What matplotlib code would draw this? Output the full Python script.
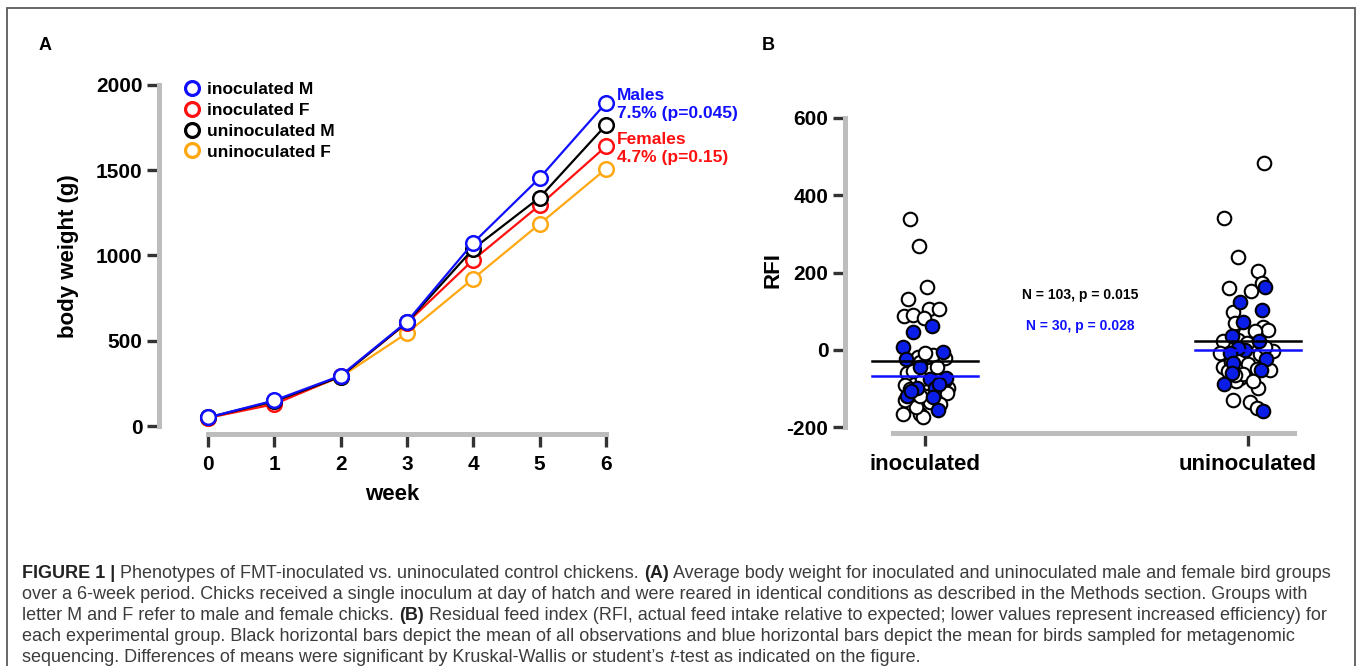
import matplotlib
matplotlib.use("Agg")
import matplotlib.pyplot as plt
from matplotlib.lines import Line2D
from matplotlib.patches import Rectangle
from matplotlib.font_manager import FontProperties

# ---------------- data ----------------
weeks = [0, 1, 2, 3, 4, 5, 6]
inoc_M = [50, 150, 295, 612, 1075, 1455, 1895]
inoc_F = [48, 128, 292, 605, 975, 1295, 1640]
uninoc_M = [50, 145, 290, 608, 1040, 1340, 1765]
uninoc_F = [48, 138, 288, 545, 865, 1185, 1508]
series_labels = ["inoculated M", "inoculated F", "uninoculated M", "uninoculated F"]

groups = ["inoculated", "uninoculated"]
# RFI values (all birds, open circles) and jitter within the group column
inoc_open_rfi = [339, 270, 164, 131, 88, 90, 105, 105, 82, -17, -13, -52, -69, -97, -100,
                 -112, -84, -78, -166, -165, -172, -147, -60, -90, -100, -130, -135, -120,
                 -20, -30, -45, -110, -85, -140, -75, -55, -8]
inoc_open_jit = [-0.046, -0.019, 0.006, -0.053, -0.065, -0.037, 0.012, 0.043, -0.003, -0.022,
                 0.025, 0.015, -0.050, 0.071, 0.056, 0.009, -0.031, 0.062, -0.068, -0.015,
                 -0.006, -0.028, -0.056, -0.062, -0.046, -0.062, 0.015, -0.015, 0.062, -0.015,
                 0.037, 0.068, 0.009, 0.046, -0.009, -0.037, 0.000]
inoc_seq_rfi = [47, 62, 7, -24, -5, -43, -76, -72, -97, -99, -119, -121, -155, -105, -88]
inoc_seq_jit = [-0.037, 0.022, -0.068, -0.059, 0.056, -0.015, 0.015, 0.065, -0.025, 0.031,
                -0.056, 0.025, 0.040, -0.043, 0.043]
uninoc_open_rfi = [483, 341, 241, 204, 160, 153, 172, 97, 70, 60, 51, 22, 25, -52, -2, -9, -43,
                   -73, -99, -129, -134, -151, -80, -17, 45, 50, -30, -35, -48, -63, -65, -10,
                   25, 8, -55, 18, -80]
uninoc_open_jit = [0.050, -0.074, -0.031, 0.031, -0.059, 0.009, 0.043, -0.046, -0.040, 0.046,
                   0.062, -0.077, 0.006, 0.068, 0.077, -0.087, -0.077, -0.025, 0.031, -0.046,
                   0.006, 0.028, -0.037, 0.015, -0.009, 0.022, -0.053, 0.000, 0.028, -0.015,
                   -0.040, 0.037, -0.031, 0.053, -0.062, -0.003, 0.015]
uninoc_seq_rfi = [164, 125, 103, 73, 36, 22, 0, 4, -9, -22, -33, -60, -52, -89, -157]
uninoc_seq_jit = [0.053, -0.025, 0.043, -0.015, -0.050, 0.034, -0.009, -0.031, -0.056, 0.056,
                  -0.046, -0.050, 0.040, -0.074, 0.046]
mean_all = [-29, 24]
mean_seq = [-67, 0]

# ---------------- layout ----------------
W, H = 1358, 666
FAM = ["Liberation Sans", "DejaVu Sans"]
plt.rcParams["font.family"] = FAM
plt.rcParams["axes.unicode_minus"] = False
fig = plt.figure(figsize=(W / 100, H / 100), dpi=100)


def fx(px):
    return px / W


def fy(py):
    return 1 - py / H


BLUE, RED, BLACK, ORANGE = "#1010ff", "#ff1010", "#000000", "#ffa812"
SPINE = "#bdbdbd"
TICK = "#333333"


def style_axes(ax):
    for s in ["top", "right"]:
        ax.spines[s].set_visible(False)
    for s in ["left", "bottom"]:
        ax.spines[s].set_color(SPINE)
        ax.spines[s].set_linewidth(3.6)
    ax.tick_params(axis="both", direction="out", length=9, width=2.4, color=TICK,
                   labelsize=15)
    ax.tick_params(axis="y", pad=3)
    ax.tick_params(axis="x", pad=6)
    for lab in ax.get_xticklabels() + ax.get_yticklabels():
        lab.set_fontweight("bold")


# ---- Panel A ----
a_left, a_right, a_top, a_bot = 159, 625, 78, 434
x0px, x6px = 208, 606
y0px, y2000px = 426, 85
axA = fig.add_axes([fx(a_left), fy(a_bot), (a_right - a_left) / W, (a_bot - a_top) / H])
sx = (x6px - x0px) / 6
sy = (y0px - y2000px) / 2000
axA.set_xlim((a_left - x0px) / sx, (a_right - x0px) / sx)
axA.set_ylim(-(a_bot - y0px) / sy, 2000 + (y2000px - a_top) / sy)

order = [(uninoc_F, ORANGE, series_labels[3]), (inoc_F, RED, series_labels[1]),
         (uninoc_M, BLACK, series_labels[2]), (inoc_M, BLUE, series_labels[0])]
for vals, col, lab in order:
    axA.plot(weeks, vals, color=col, lw=1.6, marker="o", ms=10.5, mfc="white",
             mec=col, mew=1.8, label=lab, clip_on=False)

axA.set_xticks(weeks)
axA.set_yticks([0, 500, 1000, 1500, 2000])
axA.spines["left"].set_bounds(0, 2000)
axA.spines["bottom"].set_bounds(0, 6)
style_axes(axA)
axA.set_xlabel("week", fontsize=16, fontweight="bold", labelpad=7)
axA.set_ylabel("body weight (g)", fontsize=16, fontweight="bold", labelpad=12)

handles = [Line2D([], [], ls="none", marker="o", ms=10, mfc="white", mec=c, mew=2.3)
           for c in [BLUE, RED, BLACK, ORANGE]]
axA.legend(handles, series_labels, loc="upper left", bbox_to_anchor=(0.053, 0.988),
           frameon=False, prop={"family": FAM, "weight": "bold", "size": 12.5},
           handlelength=1.0, handletextpad=0.35, labelspacing=0.32, borderpad=0,
           borderaxespad=0)

tx = (617 - x0px) / sx
axA.text(tx, (y0px - 96) / sy, "Males", color=BLUE, fontsize=12.5, fontweight="bold",
         va="center", ha="left", clip_on=False)
axA.text(tx, (y0px - 114) / sy, "7.5% (p=0.045)", color=BLUE, fontsize=12.5,
         fontweight="bold", va="center", ha="left", clip_on=False)
axA.text(tx, (y0px - 140) / sy, "Females", color=RED, fontsize=12.5, fontweight="bold",
         va="center", ha="left", clip_on=False)
axA.text(tx, (y0px - 158) / sy, "4.7% (p=0.15)", color=RED, fontsize=12.5,
         fontweight="bold", va="center", ha="left", clip_on=False)

# ---- Panel B ----
b_left, b_right, b_top, b_bot = 845, 1305, 108, 433
g0px, g1px = 925, 1248
r0px, r600px = 350, 118
axB = fig.add_axes([fx(b_left), fy(b_bot), (b_right - b_left) / W, (b_bot - b_top) / H])
gx = g1px - g0px
ry = (r0px - r600px) / 600
axB.set_xlim((b_left - g0px) / gx, (b_right - g0px) / gx)
axB.set_ylim(-200 - (b_bot - (r0px + 200 * ry)) / ry, 600 + (r600px - b_top) / ry)

open_sets = [(0, inoc_open_rfi, inoc_open_jit), (1, uninoc_open_rfi, uninoc_open_jit)]
seq_sets = [(0, inoc_seq_rfi, inoc_seq_jit), (1, uninoc_seq_rfi, uninoc_seq_jit)]
for gi, vals, jit in open_sets:
    axB.scatter([gi + j for j in jit], vals, s=95, facecolor="white", edgecolor="black",
                linewidths=1.5, zorder=3, clip_on=False)
for gi, vals, jit in seq_sets:
    axB.scatter([gi + j for j in jit], vals, s=95, facecolor="#0a1ee8", edgecolor="black",
                linewidths=1.5, zorder=4, clip_on=False)
half = 53 / gx
for gi in range(2):
    axB.plot([gi - half, gi + half], [mean_all[gi]] * 2, color="black", lw=1.8, zorder=5)
    axB.plot([gi - half, gi + half], [mean_seq[gi]] * 2, color="#1010ff", lw=1.8, zorder=5)

axB.set_xticks([0, 1])
axB.set_xticklabels(groups)
axB.set_yticks([-200, 0, 200, 400, 600])
axB.spines["left"].set_bounds(-200, 600)
axB.spines["bottom"].set_bounds((893 - g0px) / gx, (1294 - g0px) / gx)
style_axes(axB)
axB.tick_params(axis="x", labelsize=16)
for lab in axB.get_xticklabels():
    lab.set_fontweight("bold")
axB.set_ylabel("RFI", fontsize=16, fontweight="bold", labelpad=2)

axB.text((1080 - g0px) / gx, (r0px - 295) / ry, "N = 103, p = 0.015", color="black",
         fontsize=10, fontweight="bold", ha="center", va="center")
axB.text((1080 - g0px) / gx, (r0px - 326) / ry, "N = 30, p = 0.028", color="#1010ff",
         fontsize=10, fontweight="bold", ha="center", va="center")

# panel letters
fig.text(fx(45), fy(45), "A", fontsize=13, fontweight="bold", ha="center", va="center")
fig.text(fx(768), fy(45), "B", fontsize=13, fontweight="bold", ha="center", va="center")

# border
fig.add_artist(Rectangle((fx(7), fy(700)), fx(1355) - fx(7), fy(8) - fy(700),
                         transform=fig.transFigure, fill=False, edgecolor="#5a5a5a",
                         lw=1.3))

# ---------------- caption ----------------
cap_lines = [
    [("FIGURE 1 | ", "bold", "normal"),
     ("Phenotypes of FMT-inoculated vs. uninoculated control chickens. ", "normal", "normal"),
     ("(A)", "bold", "normal"),
     (" Average body weight for inoculated and uninoculated male and female bird groups",
      "normal", "normal")],
    [("over a 6-week period. Chicks received a single inoculum at day of hatch and were "
      "reared in identical conditions as described in the Methods section. Groups with",
      "normal", "normal")],
    [("letter M and F refer to male and female chicks. ", "normal", "normal"),
     ("(B)", "bold", "normal"),
     (" Residual feed index (RFI, actual feed intake relative to expected; lower values "
      "represent increased efficiency) for", "normal", "normal")],
    [("each experimental group. Black horizontal bars depict the mean of all observations "
      "and blue horizontal bars depict the mean for birds sampled for metagenomic",
      "normal", "normal")],
    [("sequencing. Differences of means were significant by Kruskal-Wallis or student\u2019s ",
      "normal", "normal"),
     ("t", "normal", "italic"),
     ("-test as indicated on the figure.", "normal", "normal")],
]
cap_baselines = [578, 599, 620, 641, 662]
cap_x0 = 22
cap_target_w = 1305

renderer = fig.canvas.get_renderer()


def seg_width(text, weight, style, size):
    fp = FontProperties(family=FAM, weight=weight, style=style, size=size)
    w1, _, _ = renderer.get_text_width_height_descent("x" + text + "x", fp, ismath=False)
    w2, _, _ = renderer.get_text_width_height_descent("xx", fp, ismath=False)
    return w1 - w2


w_line1 = sum(seg_width(t, wt, st, 11.0) for t, wt, st in cap_lines[0])
cap_size = 11.0 * cap_target_w / w_line1

for segs, yb in zip(cap_lines, cap_baselines):
    x = cap_x0
    for t, wt, st in segs:
        col = "#222222" if wt == "bold" else "#3c3c3c"
        fig.text(fx(x), fy(yb), t, fontsize=cap_size, fontweight=wt, fontstyle=st,
                 family=FAM, color=col, ha="left", va="baseline")
        x += seg_width(t, wt, st, cap_size)

fig.savefig("out.png", dpi=100)
